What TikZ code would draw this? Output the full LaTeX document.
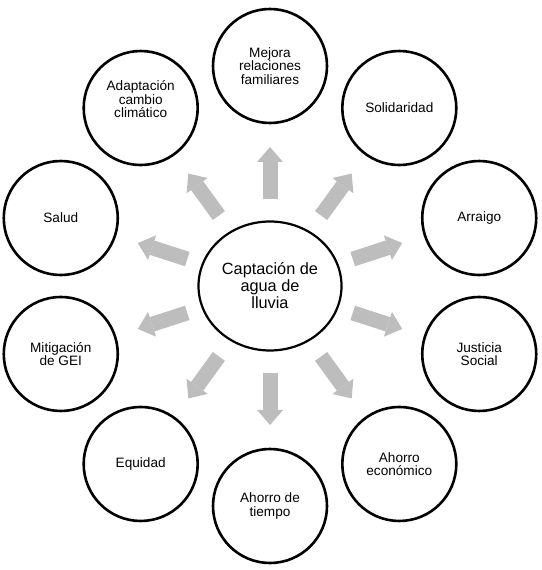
\documentclass[tikz,border=0pt]{standalone}
\usepackage{fontspec}
\setmainfont{Liberation Sans}
\usetikzlibrary{arrows.meta,shapes.geometric,calc}
\definecolor{arrowgray}{rgb}{0.74,0.74,0.74}

\begin{document}
\begin{tikzpicture}[x=1pt, y=1pt,
  ring/.style={circle, draw, line width=2.6pt, minimum size=114pt, inner sep=0pt,
    align=center, font=\fontsize{13.6}{13.4}\selectfont},
  hubring/.style={ellipse, draw, line width=2.2pt, minimum width=143pt,
    minimum height=129pt, inner sep=0pt, align=center, font=\fontsize{16.3}{17}\selectfont},
  blockarrow/.style={arrowgray, line width=15pt,
    -{Triangle[length=15pt, width=26pt, line width=0pt]}}]
  \useasboundingbox (0,0) rectangle (541,570);
  % hub: the practice itself
  \node[hubring] (hub) at (270,284) {Captación de\\agua de\\lluvia};
  % ten benefits, 36 degrees apart, radius 220
  \node[ring] (mejora) at ($(hub)+(90:220)$) {Mejora\\relaciones\\familiares};
  \node[ring] (solid) at ($(hub)+(54:220)$) {Solidaridad};
  \node[ring] (arraigo) at ($(hub)+(18:220)$) {Arraigo};
  \node[ring] (justicia) at ($(hub)+(-18:220)$) {Justicia\\Social};
  \node[ring] (econ) at ($(hub)+(-54:220)$) {Ahorro\\económico};
  \node[ring] (tiempo) at ($(hub)+(-90:220)$) {Ahorro de\\tiempo};
  \node[ring] (equidad) at ($(hub)+(-126:220)$) {Equidad};
  \node[ring] (gei) at ($(hub)+(-162:220)$) {Mitigación\\de GEI};
  \node[ring] (salud) at ($(hub)+(162:220)$) {Salud};
  \node[ring, text depth=18pt] (adapt) at ($(hub)+(126:220)$) {Adaptación\\cambio\\climático};
  % gray block arrows, floating between hub and rings
  \foreach \o in {mejora,solid,arraigo,justicia,econ,tiempo,equidad,gei,salud,adapt}
    \draw[blockarrow] ($(hub)!87pt!(\o)$) -- ($(hub)!139pt!(\o)$);
\end{tikzpicture}
\end{document}
